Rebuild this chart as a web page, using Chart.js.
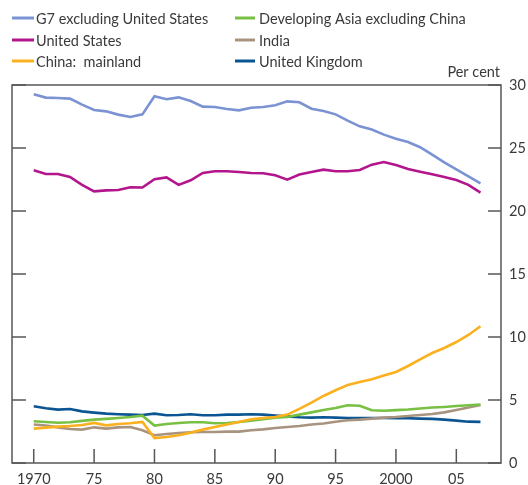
<!DOCTYPE html>
<html>
<head>
<meta charset="utf-8">
<script src="https://cdn.jsdelivr.net/npm/chart.js@4.4.1/dist/chart.umd.min.js"></script>
<style>
  body { margin: 0; background: #fff; }
  canvas { display: block; }
</style>
</head>
<body>
<canvas id="line-chart" width="528" height="485"></canvas>
<script>
const years = [];
for (let y = 1970; y <= 2007; y++) years.push(y);

const xTicks = [1970, 1975, 1980, 1985, 1990, 1995, 2000, 2005];
const xTickLabels = ['1970', '75', '80', '85', '90', '95', '2000', '05'];

const g7 = [29.26, 29.0, 28.97, 28.92, 28.44, 28.02, 27.91, 27.65, 27.46, 27.67,
  29.1, 28.87, 29.02, 28.73, 28.28, 28.26, 28.1, 27.99, 28.2, 28.26,
  28.39, 28.7, 28.63, 28.12, 27.94, 27.67, 27.17, 26.72, 26.46, 26.06,
  25.74, 25.48, 25.06, 24.47, 23.86, 23.31, 22.75, 22.2];
const us = [23.23, 22.94, 22.94, 22.7, 22.07, 21.56, 21.64, 21.67, 21.88, 21.86,
  22.52, 22.67, 22.07, 22.44, 23.02, 23.15, 23.15, 23.1, 23.02, 23.0,
  22.83, 22.49, 22.89, 23.1, 23.28, 23.15, 23.15, 23.25, 23.68, 23.89,
  23.65, 23.33, 23.12, 22.91, 22.7, 22.46, 22.07, 21.46];
const china = [2.73, 2.81, 2.89, 2.94, 3.02, 3.18, 2.99, 3.1, 3.15, 3.26,
  1.98, 2.06, 2.2, 2.41, 2.65, 2.86, 3.05, 3.26, 3.47, 3.57,
  3.65, 3.84, 4.29, 4.79, 5.32, 5.77, 6.19, 6.43, 6.64, 6.94,
  7.22, 7.7, 8.23, 8.73, 9.13, 9.6, 10.16, 10.85];
const devAsia = [3.31, 3.26, 3.2, 3.23, 3.34, 3.44, 3.5, 3.57, 3.65, 3.76,
  2.97, 3.1, 3.18, 3.23, 3.23, 3.15, 3.18, 3.26, 3.36, 3.47,
  3.6, 3.65, 3.84, 4.02, 4.2, 4.37, 4.58, 4.55, 4.18, 4.15,
  4.2, 4.24, 4.32, 4.4, 4.45, 4.52, 4.58, 4.63];
const india = [3.05, 2.97, 2.83, 2.7, 2.65, 2.83, 2.73, 2.83, 2.86, 2.6,
  2.2, 2.3, 2.38, 2.44, 2.46, 2.46, 2.49, 2.49, 2.6, 2.67,
  2.78, 2.86, 2.94, 3.05, 3.13, 3.28, 3.39, 3.44, 3.52, 3.6,
  3.65, 3.73, 3.81, 3.89, 4.02, 4.2, 4.4, 4.6];
const uk = [4.5, 4.34, 4.24, 4.29, 4.1, 4.0, 3.92, 3.87, 3.84, 3.81,
  3.92, 3.79, 3.81, 3.87, 3.79, 3.79, 3.84, 3.84, 3.87, 3.84,
  3.76, 3.7, 3.63, 3.6, 3.63, 3.6, 3.57, 3.57, 3.57, 3.57,
  3.55, 3.55, 3.52, 3.5, 3.44, 3.36, 3.28, 3.26];

const FONT = 'Lato, "Open Sans", sans-serif';
const TEXT = '#3a3a3a';
const FRAME = '#575757';

const toPoints = vals => years.map((yr, i) => ({ x: yr, y: vals[i] }));

const series = [
  { label: 'G7 excluding United States', data: g7, color: '#7b93d3' },
  { label: 'United States', data: us, color: '#b3168c' },
  { label: 'China:  mainland', data: china, color: '#fbb01f' },
  { label: 'Developing Asia excluding China', data: devAsia, color: '#78c043' },
  { label: 'India', data: india, color: '#a8937f' },
  { label: 'United Kingdom', data: uk, color: '#0b5592' },
];

// legend is two columns, filled row by row
const legendOrder = [0, 3, 1, 4, 2, 5];

const decorations = {
  id: 'decorations',
  afterDraw(chart) {
    const ctx = chart.ctx;
    const a = chart.chartArea;
    const xs = chart.scales.x;
    const ys = chart.scales.y;
    ctx.save();
    ctx.strokeStyle = FRAME;
    ctx.lineWidth = 1.5;
    ctx.strokeRect(a.left, a.top, a.right - a.left, a.bottom - a.top);

    ctx.beginPath();
    ys.ticks.forEach(t => {
      const py = ys.getPixelForValue(t.value);
      ctx.moveTo(a.left, py); ctx.lineTo(a.left + 14, py);
      ctx.moveTo(a.right, py); ctx.lineTo(a.right - 13, py);
    });
    xTicks.forEach(v => {
      const px = xs.getPixelForValue(v);
      ctx.moveTo(px, a.bottom); ctx.lineTo(px, a.bottom - 14);
    });
    ctx.stroke();

    ctx.fillStyle = TEXT;
    ctx.font = '14.5px ' + FONT;
    ctx.textAlign = 'right';
    ctx.textBaseline = 'middle';
    ctx.fillText('Per cent', 500, 72);

    ctx.textAlign = 'left';
    const cols = [{ x: 12, w: 22, tx: 36 }, { x: 235, w: 20, tx: 259 }];
    const rows = [18, 40, 61];
    legendOrder.forEach((si, k) => {
      const c = cols[k % 2];
      const ry = rows[Math.floor(k / 2)];
      ctx.strokeStyle = series[si].color;
      ctx.lineWidth = 3;
      ctx.beginPath();
      ctx.moveTo(c.x, ry); ctx.lineTo(c.x + c.w, ry);
      ctx.stroke();
      ctx.fillText(series[si].label, c.tx, ry + 1);
    });
    ctx.restore();
  }
};

new Chart(document.getElementById('line-chart'), {
  type: 'line',
  data: {
    datasets: series.map(s => ({
      label: s.label,
      data: toPoints(s.data),
      borderColor: s.color,
      backgroundColor: s.color,
      borderWidth: 2.6,
      pointRadius: 0,
      tension: 0,
    })),
  },
  options: {
    responsive: false,
    animation: false,
    layout: { padding: { left: 12, top: 85, right: 0, bottom: 0 } },
    plugins: { legend: { display: false }, tooltip: { enabled: false } },
    scales: {
      x: {
        type: 'linear',
        min: 1968.2,
        max: 2008.7,
        grid: { display: false, drawTicks: false, tickLength: 0 },
        border: { display: false },
        afterBuildTicks: scale => { scale.ticks = xTicks.map(v => ({ value: v })); },
        afterFit: scale => { scale.height = 22; },
        ticks: {
          padding: 8,
          color: TEXT,
          font: { family: FONT, size: 14.5 },
          maxRotation: 0,
          callback: v => xTickLabels[xTicks.indexOf(v)],
        },
      },
      y: {
        position: 'right',
        min: 0,
        max: 30,
        grid: { display: false, drawTicks: false, tickLength: 0 },
        border: { display: false },
        afterFit: scale => { scale.width = 27; },
        ticks: {
          stepSize: 5,
          padding: 8,
          color: TEXT,
          font: { family: FONT, size: 14.5 },
        },
      },
    },
  },
  plugins: [decorations],
});
</script>
</body>
</html>
